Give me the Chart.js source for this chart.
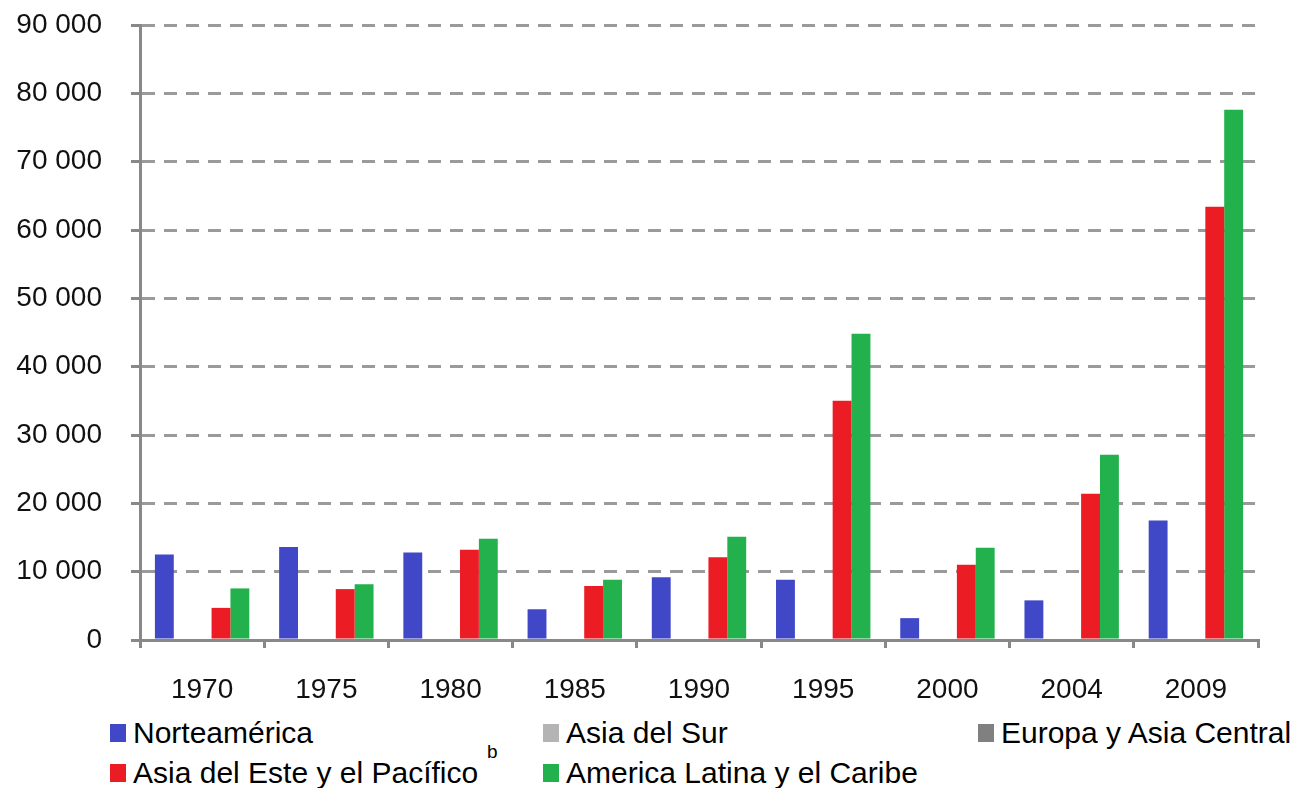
<!DOCTYPE html>
<html>
<head>
<meta charset="utf-8">
<script src="https://cdn.jsdelivr.net/npm/chart.js@4/dist/chart.umd.min.js"></script>
<style>
    body { margin: 0; background: #fff; font-family: "Liberation Sans", Arial, sans-serif; }
    #wrap { position: absolute; left: 0; top: 0; width: 1294px; height: 712px; }
    .item { position: absolute; font-size: 30px; color: #000; line-height: 36px; white-space: nowrap; }
    .item .sw { position: absolute; left: -23px; top: 9px; width: 16px; height: 18px; }
    .note { position: absolute; left: 487px; top: 741px; font-size: 19px; }
</style>
</head>
<body>
<div id="wrap"><canvas id="chart"></canvas></div>
<div id="legend"></div>
<div class="note">b</div>
<script>
let years = ["1970", "1975", "1980", "1985", "1990", "1995", "2000", "2004", "2009"];
let norteamerica = [12500, 13600, 12800, 4500, 9200, 8800, 3200, 5800, 17500];
let asiaSur = [0, 0, 0, 0, 0, 0, 0, 0, 0];
let europaAsiaCentral = [0, 0, 0, 0, 0, 0, 0, 0, 0];
let asiaEste = [4700, 7450, 13200, 7900, 12100, 35000, 11000, 21400, 63400];
let americaLatina = [7550, 8150, 14800, 8800, 15100, 44800, 13500, 27100, 77600];
let yTicks = [0, 10000, 20000, 30000, 40000, 50000, 60000, 70000, 80000, 90000];

let seriesNames = ["Norteamérica", "Asia del Sur", "Europa y Asia Central", "Asia del Este y el Pacífico", "America Latina y el Caribe"];
let seriesData = [norteamerica, asiaSur, europaAsiaCentral, asiaEste, americaLatina];
let seriesColors = ["#4048C8", "#B4B4B4", "#808080", "#EC1C24", "#22B14C"];

// legend slots: [left of text, row]
let legendPos = [[133, 0], [566, 0], [1001, 0], [133, 1], [566, 1]];

function fmt(v) {
    return String(v).replace(/\B(?=(\d{3})+(?!\d))/g, " ");
}

const ctx = document.getElementById("chart").getContext("2d");
let chart = new Chart(ctx, {
    type: "bar",
    data: {
        labels: years,
        datasets: seriesNames.map((name, i) => ({
            label: name,
            data: seriesData[i],
            backgroundColor: seriesColors[i],
            barPercentage: 1,
            categoryPercentage: 0.76
        }))
    },
    options: {
        responsive: true,
        maintainAspectRatio: false,
        animation: false,
        layout: { padding: { top: 25, right: 36, left: 0, bottom: 0 } },
        plugins: { legend: { display: false }, tooltip: { enabled: false } },
        scales: {
            x: {
                afterFit: s => { s.height = 72; },
                grid: { drawOnChartArea: false, color: "#888", lineWidth: 3, tickLength: 8, offset: true },
                border: { color: "#888", width: 3 },
                ticks: { color: "#111", padding: 25, font: { family: "Liberation Sans", size: 28 } }
            },
            y: {
                min: 0,
                max: 90000,
                afterFit: s => {
                    s.width = 140;
                    // tick padding otherwise pushes the plot top down
                    s.paddingTop = 0;
                    s.paddingBottom = 0;
                },
                afterBuildTicks: s => { s.ticks = yTicks.map(v => ({ value: v })); },
                grid: { color: "#9a9a9a", lineWidth: 3, tickLength: 9, tickColor: "#888" },
                border: { color: "#888", width: 3, dash: [13, 9] },
                ticks: {
                    color: "#111",
                    padding: 29,
                    font: { family: "Liberation Sans", size: 28 },
                    callback: v => fmt(v)
                }
            }
        }
    }
});

let legendHTML = "";
seriesNames.forEach((name, i) => {
    let [left, row] = legendPos[i];
    legendHTML += `<div class="item" style="left:${left}px;top:${715 + row * 40}px">
        <span class="sw" style="background:${seriesColors[i]}"></span>${name}</div>`;
});
document.getElementById("legend").innerHTML = legendHTML;
</script>
</body>
</html>
